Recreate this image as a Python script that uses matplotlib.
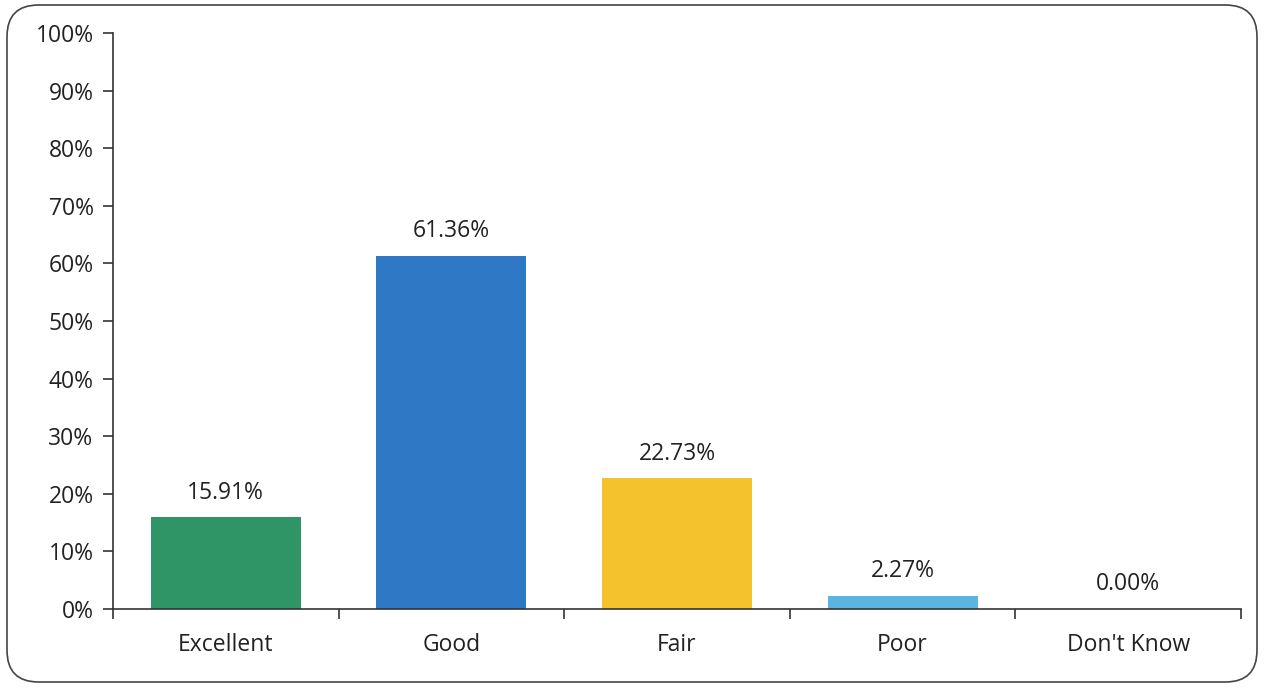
import matplotlib.pyplot as plt
from matplotlib.patches import FancyBboxPatch
from matplotlib.ticker import PercentFormatter

categories = ['Excellent', 'Good', 'Fair', 'Poor', "Don't Know"]
values = [15.91, 61.36, 22.73, 2.27, 0.00]
colors = ['#2f9466', '#2f78c6', '#f3c22c', '#5bb5e0', '#ffffff']

plt.rcParams['font.family'] = ['Open Sans', 'DejaVu Sans']

fig = plt.figure(figsize=(12.64, 6.87), dpi=100)
ax = fig.add_axes([113 / 1264, 78 / 687, 1128 / 1264, 576 / 687])

x = range(len(categories))
bars = ax.bar(x, values, width=0.665, color=colors)
for xi, v in zip(x, values):
    ax.annotate(f'{v:.2f}%', (xi, v), xytext=(0, 9), textcoords='offset points',
                ha='center', va='bottom', fontsize=16.5, color='#222222')

ax.set_xlim(-0.5, len(categories) - 0.5)
ax.set_ylim(0, 100)
ax.set_yticks(range(0, 101, 10))
ax.yaxis.set_major_formatter(PercentFormatter(decimals=0))
ax.set_xticks(x)
ax.set_xticklabels(categories)
ax.set_xticks([i - 0.5 for i in range(len(categories) + 1)], minor=True)
ax.tick_params(axis='x', which='major', length=0, pad=17, labelsize=16.5, labelcolor='#222222')
ax.tick_params(axis='x', which='minor', length=7, width=1.2, direction='out', color='#333333')
ax.tick_params(axis='y', length=7, width=1.2, labelsize=16.5, labelcolor='#222222', color='#333333', pad=7)

for side in ['top', 'right']:
    ax.spines[side].set_visible(False)
for side in ['left', 'bottom']:
    ax.spines[side].set_linewidth(1.2)
    ax.spines[side].set_color('#333333')

border = FancyBboxPatch((7 / 1264, 5 / 687), 1250 / 1264, 677 / 687,
                        boxstyle='round,pad=0,rounding_size=0.025',
                        transform=fig.transFigure, fill=False,
                        edgecolor='#444444', linewidth=1.2,
                        mutation_aspect=1264 / 687)
fig.patches.append(border)

fig.savefig('out.png', dpi=100)
